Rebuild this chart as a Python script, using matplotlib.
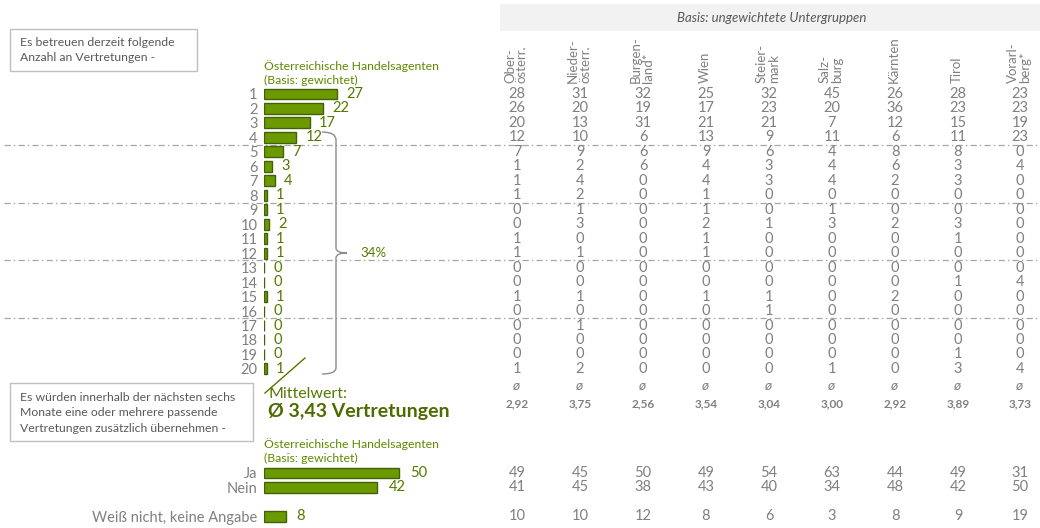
import matplotlib.pyplot as plt
from matplotlib.path import Path
from matplotlib.patches import PathPatch, Rectangle

plt.rcParams['font.family'] = ['Lato', 'DejaVu Sans']

# --- data -------------------------------------------------------------
anzahl = [str(i) for i in range(1, 21)]
gesamt = [27, 22, 17, 12, 7, 3, 4, 1, 1, 2, 1, 1, 0, 0, 1, 0, 0, 0, 0, 1]
summe_4_20 = '34%'
mittelwert = '3,43'

regionen = ['Ober-\nösterr.', 'Nieder-\nösterr.', 'Burgen-\nland*', 'Wien',
            'Steier-\nmark', 'Salz-\nburg', 'Kärnten', 'Tirol', 'Vorarl-\nberg*']
ober = [28, 26, 20, 12, 7, 1, 1, 1, 0, 0, 1, 1, 0, 0, 1, 0, 0, 0, 0, 1]
nieder = [31, 20, 13, 10, 9, 2, 4, 2, 1, 3, 0, 1, 0, 0, 1, 0, 1, 0, 0, 2]
burgen = [32, 19, 31, 6, 6, 6, 0, 0, 0, 0, 0, 0, 0, 0, 0, 0, 0, 0, 0, 0]
wien = [25, 17, 21, 13, 9, 4, 4, 1, 1, 2, 1, 1, 0, 0, 1, 0, 0, 0, 0, 0]
steier = [32, 23, 21, 9, 6, 3, 3, 0, 0, 1, 0, 0, 0, 0, 1, 1, 0, 0, 0, 0]
salz = [45, 20, 7, 11, 4, 4, 4, 0, 1, 3, 0, 0, 0, 0, 0, 0, 0, 0, 0, 1]
kaernten = [26, 36, 12, 6, 8, 6, 2, 0, 0, 2, 0, 0, 0, 0, 2, 0, 0, 0, 0, 0]
tirol = [28, 23, 15, 11, 8, 3, 3, 0, 0, 3, 1, 0, 0, 1, 0, 0, 0, 0, 1, 3]
vorarl = [23, 23, 19, 23, 0, 4, 0, 0, 0, 0, 0, 0, 0, 4, 0, 0, 0, 0, 0, 4]
mittel_regionen = ['2,92', '3,75', '2,56', '3,54', '3,04', '3,00', '2,92',
                   '3,89', '3,73']

antworten = ['Ja', 'Nein', 'Weiß nicht, keine Angabe']
antw_gesamt = [50, 42, 8]
ja = [49, 45, 50, 49, 54, 63, 44, 49, 31]
nein = [41, 45, 38, 43, 40, 34, 48, 42, 50]
weiss = [10, 10, 12, 8, 6, 3, 8, 9, 19]

# --- layout / style ---------------------------------------------------
W, H = 1040, 528
PX_PCT = 2.7            # pixels per percent
ROW0, STEP = 94, 14.47  # first row centre, row pitch
BAR_X = 264
COL_X = [517, 580, 643, 706, 769, 832, 895, 958, 1020]
FILL, EDGE = '#6a9a00', '#44600a'
GREEN, GREEN_T = '#557800', '#5f8a00'
GRAY = '#808080'
FS = 10.5

fig = plt.figure(figsize=(W / 100, H / 100), dpi=100)
ax = fig.add_axes([0, 0, 1, 1])
ax.set_xlim(0, W)
ax.set_ylim(H, 0)
ax.axis('off')


def px_axes(x0, y0, w, h):
    a = fig.add_axes([x0 / W, 1 - (y0 + h) / H, w / W, h / H])
    a.patch.set_visible(False)
    for s in a.spines.values():
        s.set_visible(False)
    a.set_xticks([])
    a.tick_params(axis='y', length=0, pad=4.5, labelcolor=GRAY, labelsize=FS)
    return a


# separators
for k in (4, 8, 12, 16):
    y = ROW0 + (k - 0.5) * STEP
    ax.plot([4, W], [y, y], color='#a6a6a6', lw=0.9,
            linestyle=(0, (5, 2.5, 1.2, 2.5)), zorder=0)

# header band
ax.add_patch(Rectangle((500, 4), W - 500, 27, facecolor='#f2f2f2',
                       edgecolor='none', zorder=0))
ax.text(772, 18, 'Basis: ungewichtete Untergruppen', ha='center',
        va='center', style='italic', fontsize=9.5, color='#595959')
for x, name in zip(COL_X, regionen):
    zeilen = name.split('\n')
    n = len(zeilen)
    for k, z in enumerate(zeilen):
        dx = (k - (n - 1) / 2) * 12
        ax.text(x - 1 + dx, 83, z, rotation=90, rotation_mode='anchor',
                ha='left', va='center', fontsize=9.5, color=GRAY)

# question boxes
ax.add_patch(Rectangle((10, 29), 187, 42, facecolor='white',
                       edgecolor='#bfbfbf', lw=1))
ax.text(20, 50, 'Es betreuen derzeit folgende\nAnzahl an Vertretungen -',
        va='center', fontsize=8.8, color='#595959', linespacing=1.4)
ax.add_patch(Rectangle((10, 383), 243, 58, facecolor='white',
                       edgecolor='#bfbfbf', lw=1))
ax.text(20, 413, 'Es würden innerhalb der nächsten sechs\n'
        'Monate eine oder mehrere passende\n'
        'Vertretungen zusätzlich übernehmen -',
        va='center', fontsize=8.8, color='#595959', linespacing=1.5)

# group titles
for y in (73, 451):
    ax.text(BAR_X, y, 'Österreichische Handelsagenten\n(Basis: gewichtet)',
            va='center', fontsize=8.8, color=GREEN_T, linespacing=1.25)

# top bars
axb = px_axes(BAR_X, ROW0 - STEP / 2, 200, STEP * 20)
bars = axb.barh(range(20), gesamt, height=0.76, color=FILL, edgecolor=EDGE,
                lw=1)
axb.set_xlim(0, 200 / PX_PCT)
axb.set_ylim(19.5, -0.5)
axb.set_yticks(range(20), anzahl)
axb.bar_label(bars, padding=6.5, color=GREEN, fontsize=FS)

# bracket 4..20
brace = Path([(322, 132), (336, 132), (336, 140), (336, 248), (336, 253),
              (347, 253), (336, 253), (336, 258), (336, 368), (336, 374),
              (322, 374)],
             [Path.MOVETO, Path.CURVE3, Path.CURVE3, Path.LINETO,
              Path.CURVE3, Path.CURVE3, Path.CURVE3, Path.CURVE3,
              Path.LINETO, Path.CURVE3, Path.CURVE3])
ax.add_patch(PathPatch(brace, facecolor='none', edgecolor='#8c8c8c', lw=1))
ax.text(360, 253, summe_4_20, va='center', fontsize=9.5, color=GREEN)

# mean
ax.plot([265, 305], [393, 358], color=GREEN, lw=1)
ax.text(268, 394, 'Mittelwert:', va='center', fontsize=11.5, color=GREEN)
ax.text(268, 411, f'Ø {mittelwert} Vertretungen', va='center', fontsize=14,
        fontweight='bold', color='#4d6b00')

# table
spalten = [ober, nieder, burgen, wien, steier, salz, kaernten, tirol, vorarl]
for x, werte, m in zip(COL_X, spalten, mittel_regionen):
    for i, v in enumerate(werte):
        ax.text(x, ROW0 + i * STEP, str(v), ha='center', va='center',
                fontsize=FS, color=GRAY)
    ax.text(x, 386, 'ø', ha='center', va='center', fontsize=10,
            style='italic', color=GRAY)
    ax.text(x, 404, m, ha='center', va='center', fontsize=8.5,
            fontweight='bold', color=GRAY)

# lower bars
ANT_POS = [0, 1, 3]
ANT_Y = 473
axa = px_axes(BAR_X, ANT_Y - STEP / 2, 200, STEP * 4)
bars2 = axa.barh(ANT_POS, antw_gesamt, height=0.72, color=FILL,
                 edgecolor=EDGE, lw=1)
axa.set_xlim(0, 200 / PX_PCT)
axa.set_ylim(3.5, -0.5)
axa.set_yticks(ANT_POS, antworten)
axa.bar_label(bars2, padding=8, color=GREEN, fontsize=FS)

for x, a, b, c in zip(COL_X, ja, nein, weiss):
    for p, v in zip(ANT_POS, (a, b, c)):
        ax.text(x, ANT_Y + p * STEP, str(v), ha='center', va='center',
                fontsize=FS, color=GRAY)

fig.savefig('out.png', dpi=100)
